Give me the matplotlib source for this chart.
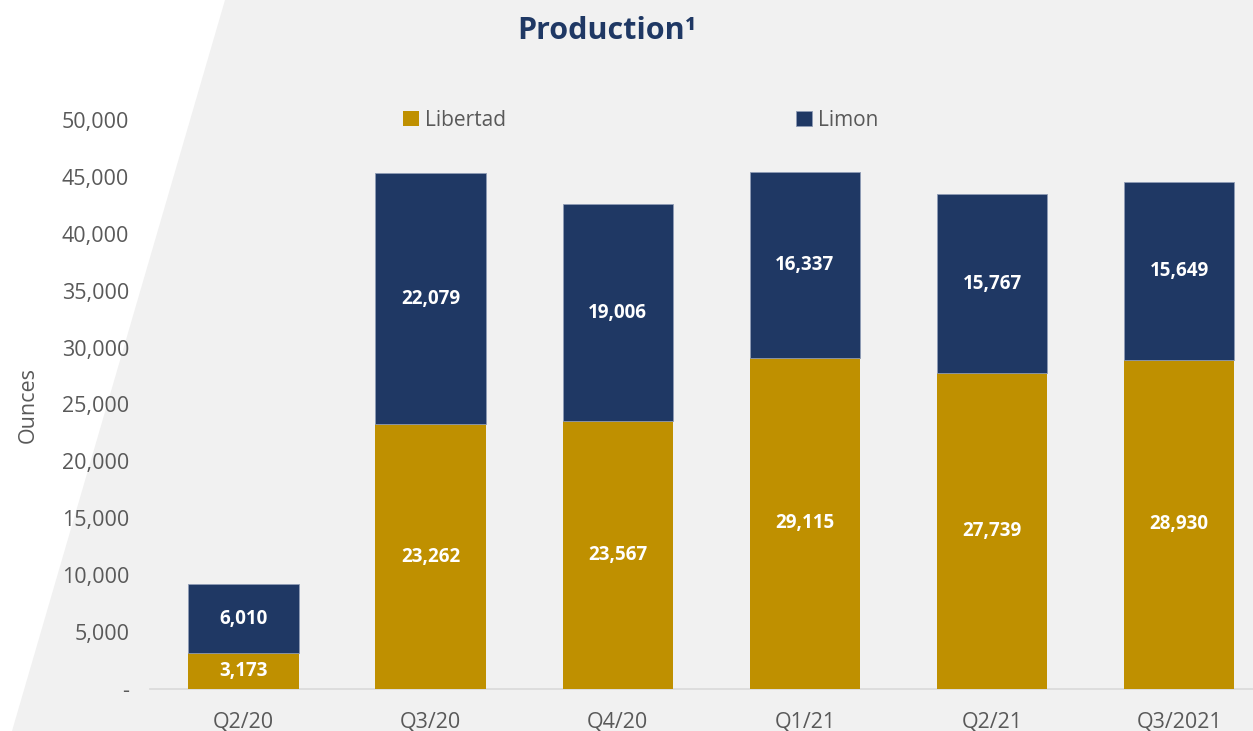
import matplotlib.pyplot as plt
import numpy as np
from matplotlib.patches import Polygon
from matplotlib.ticker import FuncFormatter

# 資料
quarters = ["Q2/20", "Q3/20", "Q4/20", "Q1/21", "Q2/21", "Q3/2021"]
libertad = [3173, 23262, 23567, 29115, 27739, 28930]
limon = [6010, 22079, 19006, 16337, 15767, 15649]

gold = "#BF9000"
navy = "#1F3864"
gray_txt = "#595959"

plt.rcParams['font.family'] = ['Open Sans', 'DejaVu Sans']

fig = plt.figure(figsize=(12.53, 7.31), dpi=100)
fig.patch.set_facecolor("white")

# 背景斜切灰色區塊 (放在最底層的座標軸)
bg_ax = fig.add_axes([0, 0, 1, 1], zorder=-1)
bg_ax.set_axis_off()
bg_ax.set_xlim(0, 1)
bg_ax.set_ylim(0, 1)
bg_ax.add_patch(Polygon([(225 / 1253, 1), (1, 1), (1, 0), (12 / 1253, 0)], closed=True,
                        facecolor="#F1F1F1", edgecolor="none"))

ax = fig.add_axes([150 / 1253, 42 / 731, 1 - 150 / 1253, (689 - 63) / 731])
ax.set_facecolor("none")

x = np.arange(len(quarters))
w = 0.59
b1 = ax.bar(x, libertad, w, color=gold, label="Libertad", zorder=3)
b2 = ax.bar(x, limon, w, bottom=libertad, color=navy, label="Limon", zorder=3,
            edgecolor="#8f9cb5", linewidth=0.6)

for i in range(len(quarters)):
    ax.text(x[i], libertad[i] / 2, f"{libertad[i]:,}", ha="center", va="center",
            color="white", fontsize=13.5, fontweight="bold", zorder=4)
    ax.text(x[i], libertad[i] + limon[i] / 2, f"{limon[i]:,}", ha="center", va="center",
            color="white", fontsize=13.5, fontweight="bold", zorder=4)

ax.set_xlim(-0.5, 5.395)
ax.set_ylim(0, 55000)
ax.set_yticks(np.arange(0, 50001, 5000))
ax.yaxis.set_major_formatter(FuncFormatter(lambda v, p: "-" if v == 0 else f"{int(v):,}"))
ax.set_xticks(x)
ax.set_xticklabels(quarters)
ax.tick_params(axis="both", length=0, labelsize=15.5, labelcolor=gray_txt)
ax.tick_params(axis="y", pad=15)
ax.tick_params(axis="x", pad=16)

for s in ["top", "right", "left"]:
    ax.spines[s].set_visible(False)
ax.spines["bottom"].set_color("#D9D9D9")
ax.spines["bottom"].set_linewidth(1.2)

fig.text(28 / 1253, 1 - 405 / 731, "Ounces", rotation=90, ha="center", va="center",
         fontsize=15.5, color=gray_txt)

fig.text(607 / 1253, 1 - 31 / 731, "Production\u00b9", ha="center", va="center",
         fontsize=22, fontweight="bold", color=navy)

leg = ax.legend(handles=[b1, b2], ncol=2, frameon=False, loc="center left",
                bbox_to_anchor=(393 / 1253, 1 - 120 / 731), bbox_transform=fig.transFigure,
                fontsize=15, handlelength=0.75, handleheight=0.75, handletextpad=0.3,
                columnspacing=13.9, labelcolor=gray_txt, borderpad=0)

fig.savefig("out.png", dpi=100)
